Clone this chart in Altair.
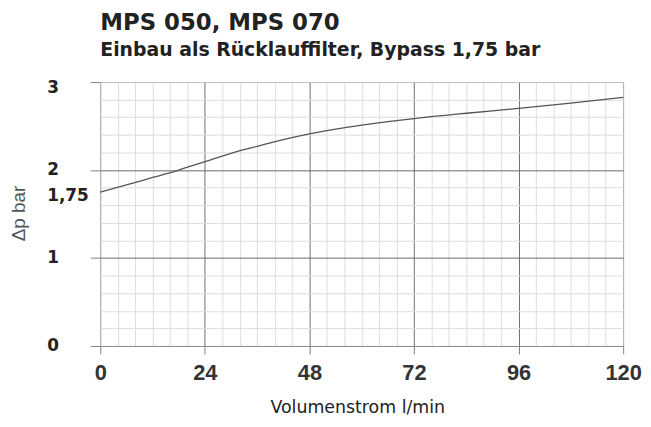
import altair as alt
import pandas as pd

# Curve (Volumenstrom l/min -> delta p bar)
flow = [0, 6, 12, 18, 24, 30, 36, 42, 48, 54, 60, 66, 72, 84, 96, 108, 120]
dp = [1.75, 1.83, 1.915, 2.00, 2.095, 2.19, 2.27, 2.345, 2.41, 2.465, 2.51, 2.55, 2.585, 2.645, 2.70, 2.76, 2.825]

# Axis tick positions (minor grid + labelled majors)
x_ticks = [0, 4, 8, 12, 16, 20, 24, 28, 32, 36, 40, 44, 48, 52, 56, 60, 64, 68, 72,
           76, 80, 84, 88, 92, 96, 100, 104, 108, 112, 116, 120]
y_ticks = [0, 0.2, 0.4, 0.6, 0.8, 1, 1.2, 1.4, 1.6, 1.8, 2, 2.2, 2.4, 2.6, 2.8, 3, 1.75]

df = pd.DataFrame({"flow": flow, "dp": dp})

x_axis = alt.Axis(
    values=x_ticks,
    title="Volumenstrom l/min",
    grid=True,
    gridColor={"condition": [
        {"test": "datum.value == 0", "value": "#9a9a9a"},
        {"test": "datum.value == 120", "value": "#a8a8a8"},
        {"test": "datum.value % 24 == 0", "value": "#707070"}],
        "value": "#dedede"},
    gridWidth=1,
    domain=False,
    ticks=True,
    tickSize=8,
    tickColor="#808080",
    tickOpacity={"condition": {"test": "datum.value % 24 == 0", "value": 1}, "value": 0},
    labelExpr="datum.value % 24 == 0 ? '' + datum.value : ''",
    labelFont="Liberation Sans",
    labelFontSize=22,
    labelFontWeight="bold",
    labelColor="#333333",
    labelPadding=9,
    labelOverlap=False,
    labelFlush=False,
    labelBound=False,
    titleFont="DejaVu Sans",
    titleFontSize=17.5,
    titleFontWeight="normal",
    titleColor="#222222",
    titleX=259,
    titleY=67,
    titleAlign="center",
    titleBaseline="alphabetic",
)

y_axis = alt.Axis(
    values=y_ticks,
    title="Δp bar",
    grid=True,
    gridColor={"condition": [
        {"test": "datum.value == 0", "value": "#8a8a8a"},
        {"test": "datum.value == 3", "value": "#bdbdbd"},
        {"test": "datum.value == 1 || datum.value == 2", "value": "#6a6a6a"}],
        "value": "#dedede"},
    gridOpacity={"condition": {"test": "datum.value == 1.75", "value": 0}, "value": 1},
    gridWidth=1,
    domain=False,
    ticks=True,
    tickSize=10,
    tickColor="#808080",
    tickOpacity={"condition": {"test": "datum.value % 1 == 0", "value": 1}, "value": 0},
    labelExpr="datum.value == 1.75 ? '1,75' : (datum.value % 1 == 0 ? '' + datum.value : '')",
    labelAlign="left",
    labelBaseline="middle",
    labelPadding=44,
    labelOffset={"condition": [
        {"test": "datum.value == 3", "value": 6},
        {"test": "datum.value == 1.75", "value": 4}], "value": 0},
    labelFont="DejaVu Sans",
    labelFontSize=17,
    labelFontWeight="bold",
    labelColor="#222222",
    labelOverlap=False,
    labelFlush=False,
    labelBound=False,
    titleFont="Liberation Sans",
    titleFontSize=19,
    titleFontWeight="normal",
    titleColor="#555555",
    titleAngle=270,
    titleX=-82,
    titleY=132,
    titleAlign="center",
    titleBaseline="middle",
)

chart = (
    alt.Chart(df)
    .mark_line(color="#555555", strokeWidth=1.3, interpolate="monotone")
    .encode(
        x=alt.X("flow:Q", scale=alt.Scale(domain=[0, 120], nice=False, zero=False), axis=x_axis),
        y=alt.Y("dp:Q", scale=alt.Scale(domain=[0, 3], nice=False), axis=y_axis),
    )
    .properties(
        width=527,
        height=266,
        autosize="none",
        padding={"left": 93, "top": 73, "right": 20, "bottom": 72},
        title=alt.Title(
            "MPS 050, MPS 070",
            subtitle="Einbau als Rücklauffilter, Bypass 1,75 bar",
            anchor="start",
            frame="group",
            font="DejaVu Sans",
            fontSize=23,
            fontWeight="bold",
            color="#222222",
            subtitleFont="DejaVu Sans",
            subtitleFontSize=19,
            subtitleFontWeight="bold",
            subtitleColor="#222222",
            subtitlePadding=6,
            offset=19,
        ),
    )
    .configure_view(stroke=None)
)

chart.save("out.html", embed_options={"renderer": "svg", "actions": False})
